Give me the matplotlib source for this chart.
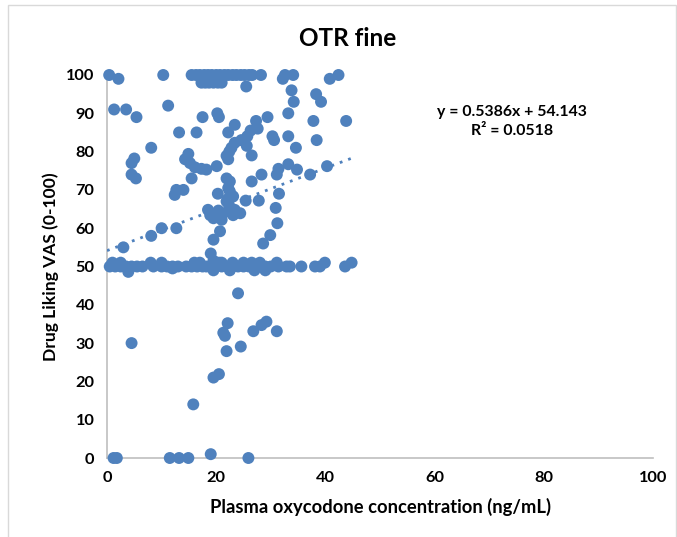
import matplotlib
matplotlib.use("Agg")
import matplotlib.pyplot as plt
from matplotlib.patches import Rectangle

plt.rcParams['font.family'] = ['Lato', 'DejaVu Sans']

# Plasma oxycodone concentration (ng/mL) and drug liking VAS score per observation
plasma = [
    # top band (~100)
    0.4, 2.1, 10.3, 15.5, 16.3, 17.0, 17.8, 18.5, 19.2, 20.0, 20.7, 21.5, 22.2,
    23.0, 23.7, 24.5, 25.2, 26.0, 26.6, 28.2, 32.2, 32.6, 34.1, 40.8, 42.4,
    17.3, 18.0, 18.7, 19.5, 20.3, 21.0, 25.5,
    # 86-96
    1.3, 3.5, 5.4, 11.2, 17.5, 20.2, 20.5, 23.4, 27.3, 29.4, 33.2, 33.8, 34.2,
    38.3, 39.2, 37.8, 43.8,
    # 80-86
    13.2, 16.4, 22.2, 25.7, 26.3, 27.6, 30.3, 30.6, 33.2, 38.4, 34.6, 8.1,
    23.4, 24.6, 25.6, 22.8, 22.4, 21.9, 22.2, 26.5,
    # 68-79
    5.0, 4.5, 4.5, 5.3, 14.9, 14.3, 15.2, 16.1, 17.3, 18.2, 20.1, 15.5, 12.7,
    14.0, 12.4, 28.3, 26.5, 21.9, 22.5, 22.2, 22.5, 20.3, 23.0, 31.4, 31.1,
    33.2, 34.8, 37.2, 40.3, 31.5,
    # 53-68
    3.0, 8.1, 10.0, 12.7, 18.5, 19.5, 21.0, 21.3, 23.1, 24.4, 22.5, 21.9, 23.1,
    23.4, 18.9, 20.4, 22.1, 25.4, 27.8, 20.7, 19.5, 29.9, 28.6, 30.9, 31.2, 19.0,
    # band at 50
    0.5, 1.5, 2.5, 3.5, 4.5, 5.5, 6.5, 8.5, 10.0, 11.0, 12.0, 13.0, 14.5, 15.5,
    16.5, 17.5, 18.2, 19.0, 20.0, 21.0, 22.0, 23.0, 24.0, 25.0, 26.0, 27.0,
    28.0, 29.0, 30.0, 31.4, 32.9, 33.5, 35.6, 38.1, 39.0, 43.6,
    1.0, 2.5, 8.0, 10.0, 16.0, 17.0, 19.5, 20.5, 21.0, 23.0, 25.0, 26.5, 28.0,
    31.1, 39.9, 44.8,
    3.9, 19.5, 22.5, 27.0, 29.0, 12.0,
    # below 50
    24.0, 4.5, 22.1, 21.3, 21.6, 26.8, 28.3, 29.2, 31.1, 21.9, 24.5, 19.5, 20.5,
    15.8, 1.2, 1.8, 11.5, 13.2, 14.9, 19.0, 25.9,
]

liking = [
    # top band (~100)
    100, 99, 100, 100, 100, 100, 100, 100, 100, 100, 100, 100, 100,
    100, 100, 100, 100, 100, 100, 100, 99, 100, 100, 99, 100,
    98, 98, 98, 98, 98, 98, 97,
    # 86-96
    91, 91, 89, 92, 89, 90, 89, 87, 88, 89, 90, 96, 93,
    95, 93, 88, 88,
    # 80-86
    85, 85, 85, 84, 85.5, 86, 84, 83, 84, 83, 81, 81,
    82.3, 83, 81.5, 81, 80, 78.9, 78, 79,
    # 68-79
    78.2, 77, 74, 73, 79.4, 78, 77, 75.9, 75.5, 75.3, 76.2, 73, 70,
    70, 68.7, 74, 72.2, 73, 72.2, 70.5, 69.6, 69, 68.3, 75.5, 74,
    76.7, 75.3, 74, 76.2, 69,
    # 53-68
    55, 58, 60, 60, 64.8, 62.6, 62.2, 63.9, 63.4, 63.9, 65.1, 67, 68.3,
    64.8, 63.4, 64.6, 67.6, 67.2, 67.2, 59.2, 57, 58.2, 56, 65.3, 61.3, 53.4,
    # band at 50
    50, 50, 50, 50, 50, 50, 50, 50, 50, 50, 50, 50, 50, 50,
    50, 50, 50, 50, 50, 50, 50, 50, 50, 50, 50, 50,
    50, 50, 50, 50, 50, 50, 50, 50, 50, 50,
    51, 51, 51, 51, 51, 51, 51.5, 51, 51, 51, 51, 51, 51,
    51, 51, 51,
    48.6, 49, 49, 49, 49, 49.5,
    # below 50
    43, 30, 35.2, 32.7, 31.9, 33.1, 34.7, 35.6, 33.1, 27.9, 29.1, 21, 21.9,
    14, 0, 0, 0, 0, 0, 1, 0,
]

# Linear trend reported on the chart
slope = 0.5386
intercept = 54.143
r_squared = 0.0518

x_ticks = [0, 20, 40, 60, 80, 100]
y_ticks = [0, 10, 20, 30, 40, 50, 60, 70, 80, 90, 100]

blue = '#4F81BD'

fig = plt.figure(figsize=(6.77, 5.37), dpi=100)
ax = fig.add_axes([107 / 677, 1 - 458 / 537, 546 / 677, 383 / 537])

ax.scatter(plasma, liking, s=74, color=blue, edgecolors='none', zorder=3,
           clip_on=False)

x_fit = [0, max(plasma)]
y_fit = [slope * v + intercept for v in x_fit]
ax.plot(x_fit, y_fit, linestyle=(0, (1, 2.2)), color=blue, linewidth=2.0,
        zorder=4)

ax.set_xlim(0, 100)
ax.set_ylim(0, 100)
ax.set_xticks(x_ticks)
ax.set_yticks(y_ticks)
ax.tick_params(length=0, pad=9, labelsize=11.8)
for lab in ax.get_xticklabels() + ax.get_yticklabels():
    lab.set_fontweight('bold')
for side in ('top', 'right'):
    ax.spines[side].set_visible(False)
for side in ('left', 'bottom'):
    ax.spines[side].set_color('#BFBFBF')
    ax.spines[side].set_linewidth(1.2)

ax.set_xlabel('Plasma oxycodone concentration (ng/mL)', fontsize=13.2,
              fontweight='bold', labelpad=10)
ax.set_ylabel('Drug Liking VAS (0-100)', fontsize=12.6, fontweight='bold',
              labelpad=5)

fig.text(348 / 677, 1 - 38 / 537, 'OTR fine', ha='center', va='center',
         fontsize=17.5, fontweight='bold')

fig.text(512 / 677, 1 - 112 / 537, f'y = {slope}x + {intercept}',
         ha='center', va='center', fontsize=11.4, fontweight='bold')
fig.text(512 / 677, 1 - 131 / 537, f'R² = {r_squared}',
         ha='center', va='center', fontsize=11.4, fontweight='bold')

# chart area outline
fig.patches.append(Rectangle((8 / 677, -0.01), 668 / 677, 1 - 5 / 537 + 0.01,
                             transform=fig.transFigure, fill=False,
                             edgecolor='#D9D9D9', linewidth=1.0))

fig.savefig('out.png', dpi=100)
